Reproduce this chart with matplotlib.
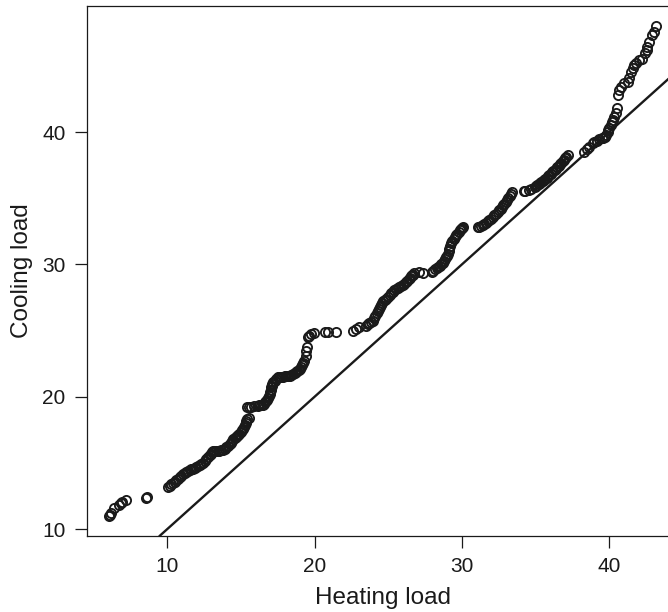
import numpy as np
import matplotlib
matplotlib.use("Agg")
import matplotlib.pyplot as plt

# Quantiles of heating load (x) vs cooling load (y)
heat_low = [6.06, 6.10, 6.17, 6.40, 6.74, 6.85, 6.95, 7.19, 8.53, 8.62]
cool_low = [10.98, 11.10, 11.23, 11.61, 11.82, 11.99, 12.05, 12.17, 12.32, 12.42]

heat_s1 = [10.04, 10.15, 10.27, 10.38, 10.50, 10.61, 10.72, 10.84, 10.95, 11.06, 11.17, 11.29, 11.40, 11.51,
           11.63, 11.74, 11.86, 11.97, 12.08, 12.20, 12.31, 12.42, 12.53, 12.64, 12.76, 12.87, 12.95, 13.03,
           13.10, 13.20, 13.31, 13.43, 13.54, 13.66, 13.77, 13.89, 14.00, 14.12, 14.23, 14.32, 14.40, 14.49,
           14.57, 14.65, 14.74, 14.82, 14.90, 14.99, 15.07, 15.16, 15.24, 15.28, 15.32, 15.36, 15.44, 15.52]
cool_s1 = [13.18, 13.28, 13.38, 13.49, 13.59, 13.69, 13.80, 13.92, 14.03, 14.14, 14.22, 14.30, 14.37, 14.45,
           14.51, 14.57, 14.64, 14.70, 14.78, 14.86, 14.94, 15.02, 15.17, 15.31, 15.46, 15.61, 15.71, 15.81,
           15.91, 15.91, 15.91, 15.91, 15.92, 15.94, 15.96, 16.07, 16.18, 16.30, 16.41, 16.54, 16.66, 16.79,
           16.92, 16.99, 17.07, 17.14, 17.22, 17.34, 17.45, 17.57, 17.68, 17.85, 18.01, 18.18, 18.30, 18.43]

heat_g1 = [15.40, 15.58, 15.70, 15.92]
cool_g1 = [19.19, 19.24, 19.24, 19.32]

heat_s2 = [16.15, 16.26, 16.38, 16.49, 16.57, 16.65, 16.72, 16.78, 16.84, 16.90, 16.94, 16.98, 17.02, 17.06,
           17.10, 17.14, 17.17, 17.28, 17.39, 17.50, 17.61, 17.73, 17.84, 17.96, 18.07, 18.19, 18.30, 18.41,
           18.53, 18.64, 18.75, 18.84, 18.92, 19.01, 19.09, 19.16, 19.23, 19.31]
cool_s2 = [19.32, 19.34, 19.37, 19.39, 19.48, 19.57, 19.65, 19.79, 19.93, 20.06, 20.20, 20.37, 20.53, 20.70,
           20.83, 20.95, 21.08, 21.21, 21.33, 21.46, 21.48, 21.50, 21.52, 21.54, 21.56, 21.58, 21.60, 21.66,
           21.72, 21.78, 21.84, 21.94, 22.03, 22.13, 22.22, 22.39, 22.56, 22.73]

heat_g2 = [19.40, 19.43, 19.47, 19.54, 19.60, 19.77, 19.99, 20.74, 20.90, 21.47, 22.59, 22.82, 23.05]
cool_g2 = [23.10, 23.48, 23.74, 24.49, 24.62, 24.75, 24.80, 24.87, 24.87, 24.87, 25.00, 25.13, 25.25]

heat_s3 = [23.50, 23.61, 23.72, 23.84, 23.95, 24.04, 24.12, 24.21, 24.29, 24.36, 24.42, 24.49, 24.55, 24.65,
           24.76, 24.86, 24.97, 25.09, 25.20, 25.31, 25.42, 25.54, 25.65, 25.76, 25.87, 25.99, 26.10, 26.21,
           26.30, 26.38, 26.47, 26.55, 26.61, 26.66]
cool_s3 = [25.38, 25.48, 25.57, 25.67, 25.76, 25.95, 26.13, 26.32, 26.50, 26.65, 26.80, 26.95, 27.10, 27.20,
           27.30, 27.40, 27.54, 27.68, 27.81, 27.95, 28.04, 28.13, 28.21, 28.30, 28.39, 28.48, 28.56, 28.65,
           28.76, 28.88, 28.99, 29.10, 29.17, 29.24]

heat_g3 = [26.78, 27.12, 27.34]
cool_g3 = [29.34, 29.42, 29.39]

heat_s4 = [27.95, 28.06, 28.18, 28.29, 28.40, 28.50, 28.61, 28.71, 28.81, 28.87, 28.93, 28.98, 29.04, 29.10,
           29.16, 29.21, 29.27, 29.36, 29.44, 29.53, 29.61, 29.70, 29.78, 29.87, 29.95, 30.00, 30.05]
cool_s4 = [29.45, 29.54, 29.63, 29.71, 29.80, 29.91, 30.03, 30.14, 30.25, 30.39, 30.53, 30.66, 30.80, 31.00,
           31.20, 31.40, 31.60, 31.75, 31.90, 32.05, 32.20, 32.33, 32.45, 32.58, 32.70, 32.76, 32.83]

heat_g4 = [31.07, 31.19, 31.30]
cool_g4 = [32.83, 32.85, 32.88]

heat_s5 = [31.41, 31.52, 31.64, 31.75, 31.86, 31.98, 32.09, 32.20, 32.32, 32.43, 32.54, 32.63, 32.71, 32.80,
           32.88, 32.97, 33.07, 33.16, 33.25, 33.34, 33.42]
cool_s5 = [32.95, 33.05, 33.16, 33.26, 33.37, 33.47, 33.58, 33.71, 33.83, 33.96, 34.09, 34.22, 34.35, 34.47,
           34.60, 34.75, 34.90, 35.06, 35.21, 35.36, 35.45]

heat_g5 = [34.24, 34.31, 34.59, 34.70]
cool_g5 = [35.55, 35.58, 35.64, 35.73]

heat_s6 = [34.95, 35.04, 35.13, 35.22, 35.30, 35.39, 35.48, 35.57, 35.66, 35.76, 35.85, 35.94, 36.03, 36.12,
           36.21, 36.30, 36.39, 36.48, 36.57, 36.66, 36.75, 36.84, 36.93, 37.01, 37.10, 37.18]
cool_s6 = [35.85, 35.93, 36.00, 36.08, 36.15, 36.23, 36.30, 36.39, 36.48, 36.57, 36.66, 36.75, 36.85, 36.95,
           37.05, 37.15, 37.25, 37.36, 37.47, 37.58, 37.69, 37.80, 37.92, 38.03, 38.15, 38.26]

heat_top = [38.31, 38.50, 38.65, 38.87, 38.99, 39.15, 39.33, 39.50, 39.60, 39.72, 39.80, 39.89, 39.95, 40.01,
            40.10, 40.19, 40.27, 40.35, 40.46, 40.53, 40.57, 40.68, 40.80, 41.02, 41.25, 41.36, 41.48, 41.59,
            41.70, 41.85, 42.04, 42.25, 42.45, 42.54, 42.60, 42.72, 42.90, 43.06, 43.17]
cool_top = [38.47, 38.70, 38.89, 39.15, 39.27, 39.35, 39.45, 39.52, 39.58, 39.65, 39.75, 40.00, 40.20, 40.35,
            40.55, 40.78, 40.95, 41.16, 41.45, 41.79, 42.80, 43.18, 43.43, 43.68, 43.81, 44.07, 44.57, 44.83,
            45.08, 45.25, 45.45, 45.55, 45.96, 46.20, 46.46, 46.84, 47.35, 47.60, 48.03]

x_ticks = [10, 20, 30, 40]
y_ticks = [10, 20, 30, 40]
x_label = "Heating load"
y_label = "Cooling load"
ref_intercept = 0.0
ref_slope = 1.0

heating = np.array(heat_low + heat_s1 + heat_g1 + heat_s2 + heat_g2 + heat_s3 + heat_g3 + heat_s4 + heat_g4
                   + heat_s5 + heat_g5 + heat_s6 + heat_top)
cooling = np.array(cool_low + cool_s1 + cool_g1 + cool_s2 + cool_g2 + cool_s3 + cool_g3 + cool_s4 + cool_g4
                   + cool_s5 + cool_g5 + cool_s6 + cool_top)

plt.rcParams['font.family'] = ['Liberation Sans', 'DejaVu Sans']
ink = '#1a1a1a'

W, H = 668, 612
fig = plt.figure(figsize=(W / 100, H / 100), dpi=100)
# axes box in pixels (left, top, right, bottom from image top)
L, T, R, B = 87.4, 6.3, 677.7, 535.7
ax = fig.add_axes([L / W, 1 - B / H, (R - L) / W, (B - T) / H])

ax.plot(heating, cooling, linestyle='none', marker='o', markersize=6.6,
        markerfacecolor='none', markeredgecolor=ink, markeredgewidth=1.35)
ax.axline((0, ref_intercept), slope=ref_slope, color=ink, linewidth=1.7)

xr = heating.max() - heating.min()
yr = cooling.max() - cooling.min()
ax.set_xlim(heating.min() - 0.04 * xr, heating.max() + 0.04 * xr)
ax.set_ylim(cooling.min() - 0.04 * yr, cooling.max() + 0.04 * yr)

ax.set_xticks(x_ticks)
ax.set_yticks(y_ticks)
ax.tick_params(direction='out', length=8.6, width=0.9, color=ink, labelcolor=ink,
               labelsize=15, pad=7)
for s in ax.spines.values():
    s.set_color(ink)
    s.set_linewidth(0.9)

ax.set_xlabel(x_label, fontsize=17.5, color=ink)
ax.set_ylabel(y_label, fontsize=17.5, color=ink)
ax.xaxis.label.set_va('center')
ax.xaxis.set_label_coords(0.5, -(598 - B) / (B - T))
ax.yaxis.label.set_va('center')
ax.yaxis.set_label_coords(-(L - 22) / (R - L), 0.5)

fig.savefig('out.png', dpi=100)
